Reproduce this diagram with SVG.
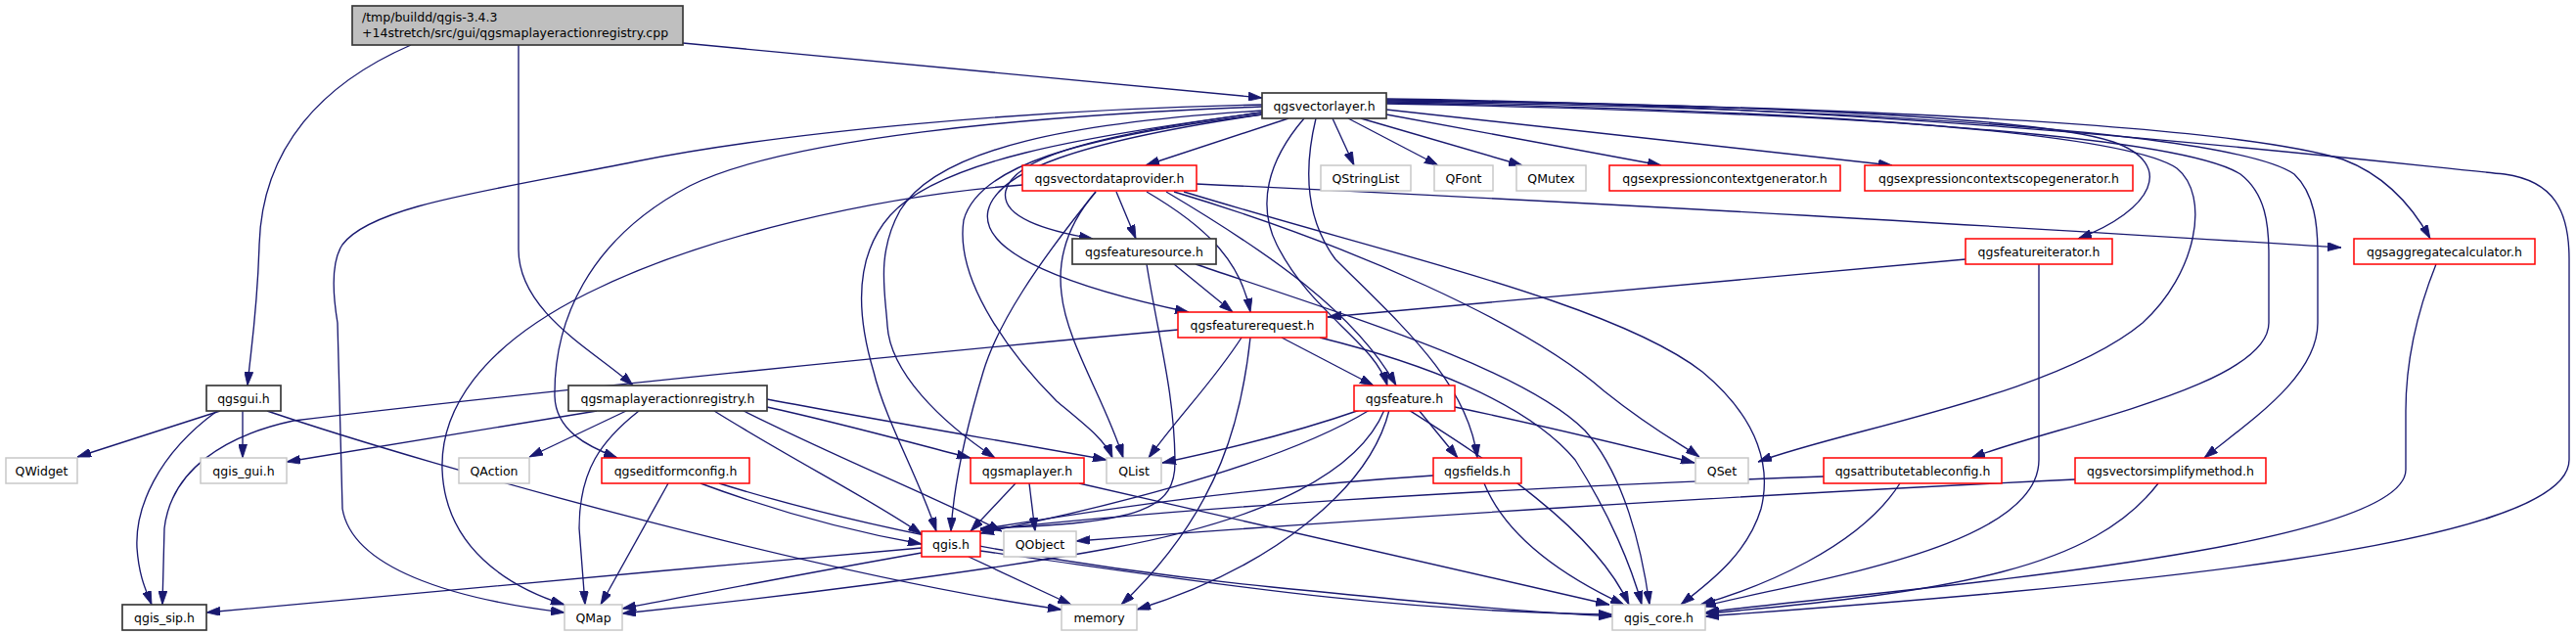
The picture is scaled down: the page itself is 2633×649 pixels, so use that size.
<svg xmlns="http://www.w3.org/2000/svg" width="2633" height="649" viewBox="0 0 2633 649">
<style>
.n rect{fill:#fff;stroke-width:1.5}
.k rect{stroke:#3a3a3a;stroke-width:1.7}
.r rect{stroke:#ff0000}
.g rect{stroke:#c8c8c8}
.root rect{fill:#bfbfbf;stroke:#3a3a3a;stroke-width:1.7}
text{font-family:"DejaVu Sans",sans-serif;font-size:12.5px;fill:#000}
.n text{text-anchor:middle}
#edges path{fill:none;stroke:#191970;stroke-width:1.35;marker-end:url(#a)}
</style>
<defs>
<marker id="a" markerUnits="userSpaceOnUse" viewBox="0 0 14 9" refX="14" refY="4.5" markerWidth="14" markerHeight="9" orient="auto">
<path d="M0,0 L14,4.5 L0,9 z" fill="#191970" stroke="#191970" stroke-width="0.8"/>
</marker>
</defs>
<rect width="2633" height="649" fill="#fff"/>
<g id="edges">
<path d="M420,46 C330,85 268,150 265,250 C263,320 256,360 253,394"/>
<path d="M530,46 L530,255 C530,320 610,360 647,394"/>
<path d="M698,44 L1290,100"/>
<path d="M1317,121 L1171,169"/>
<path d="M1362,121 L1384,169"/>
<path d="M1378,121 L1470,169"/>
<path d="M1391,121 L1556,169"/>
<path d="M1417,117 L1698,169"/>
<path d="M1417,112 L1934,169"/>
<path d="M1290,115 C1100,140 1035,165 1028,195 C1022,222 1070,236 1117,244"/>
<path d="M1290,117 C1100,145 1020,175 1010,215 C1000,260 1100,295 1215,319"/>
<path d="M1333,121 C1295,165 1285,210 1305,250 C1340,320 1405,350 1418,394"/>
<path d="M1345,121 C1332,175 1335,225 1365,265 C1430,330 1500,390 1510,468"/>
<path d="M1417,103 C1750,106 2080,118 2160,145 C2225,168 2200,215 2124,244"/>
<path d="M1417,102 C1850,108 2270,125 2395,163 C2440,180 2468,215 2484,244"/>
<path d="M1417,105 C1850,112 2170,135 2225,172 C2260,200 2245,280 2190,330 C2100,405 1880,440 1797,472"/>
<path d="M1417,106 C1900,115 2230,140 2290,178 C2316,198 2319,230 2319,260 L2319,330 C2319,395 2100,435 2015,468"/>
<path d="M1417,104 C1950,110 2290,140 2345,178 C2366,198 2369,230 2369,260 L2369,330 C2369,385 2300,430 2253,468"/>
<path d="M1417,101 C1950,108 2380,160 2560,178 C2610,185 2626,215 2626,265 L2626,470 C2626,560 2150,600 1743,630"/>
<path d="M1290,107 C1050,112 800,135 650,165 C500,195 380,210 350,250 C338,268 340,300 345,330 L350,520 C360,580 460,612 577,626"/>
<path d="M1290,109 C1050,118 800,142 705,190 C600,245 566,330 567,405 C568,440 600,456 631,468"/>
<path d="M1290,115 C1100,140 960,165 910,220 C870,265 878,330 893,380 C905,430 940,490 957,543"/>
<path d="M1290,113 C1100,125 960,150 920,215 C895,260 905,300 907,333 C910,380 960,430 1017,468"/>
<path d="M1290,117 C1100,140 1000,170 985,225 C975,290 1040,370 1080,410 C1110,435 1130,450 1137,468"/>
<path d="M1141,196 L1161,244"/>
<path d="M1172,196 C1230,230 1268,265 1278,319"/>
<path d="M1192,196 C1300,260 1385,320 1427,394"/>
<path d="M1223,188 C1700,210 2100,235 2393,253"/>
<path d="M1045,189 C900,200 720,240 600,300 C490,355 450,420 452,480 C455,560 520,600 577,618"/>
<path d="M1120,196 C1060,270 1020,330 1005,380 C990,430 975,490 972,543"/>
<path d="M1120,196 C1095,225 1080,260 1085,300 C1090,350 1130,410 1148,468"/>
<path d="M1200,196 C1380,250 1560,330 1640,400 C1690,440 1720,455 1737,467"/>
<path d="M1210,196 C1420,260 1650,310 1740,380 C1800,430 1810,480 1800,520 C1785,570 1740,600 1718,618"/>
<path d="M1200,270 L1260,319"/>
<path d="M1172,270 C1185,350 1200,400 1201,470 C1202,520 1170,535 1002,540"/>
<path d="M1222,270 C1400,330 1560,380 1620,440 C1660,485 1678,560 1686,618"/>
<path d="M2009,265 L1357,324"/>
<path d="M2084,270 L2084,470 C2084,560 1850,592 1740,620"/>
<path d="M2490,270 C2470,320 2459,370 2459,420 L2459,480 C2459,565 1900,605 1743,626"/>
<path d="M1310,345 L1404,394"/>
<path d="M1204,337 C950,360 550,400 300,430 C230,445 175,480 168,540 L166,618"/>
<path d="M1269,345 C1240,390 1205,425 1174,468"/>
<path d="M1278,345 C1270,420 1250,520 1146,618"/>
<path d="M1349,345 C1450,370 1560,410 1610,470 C1645,525 1668,580 1678,618"/>
<path d="M1390,419 C1330,440 1250,460 1188,473"/>
<path d="M1450,419 L1490,468"/>
<path d="M1487,416 C1600,440 1680,460 1732,473"/>
<path d="M1400,419 C1300,480 1100,525 1002,545"/>
<path d="M1415,419 C1390,480 1300,530 1137,560 C1000,585 800,610 636,627"/>
<path d="M1420,419 C1400,500 1300,580 1162,623"/>
<path d="M1440,419 C1520,470 1630,540 1665,618"/>
<path d="M225,420 L79,467"/>
<path d="M248,420 L248,468"/>
<path d="M222,420 C160,465 138,520 140,560 C142,590 150,605 155,618"/>
<path d="M273,420 C450,480 850,590 1085,623"/>
<path d="M610,420 L293,472"/>
<path d="M640,420 L541,467"/>
<path d="M653,420 C615,450 592,480 592,540 L598,618"/>
<path d="M784,408 C900,430 1050,455 1131,470"/>
<path d="M784,416 C870,435 940,455 992,468"/>
<path d="M730,420 C810,470 890,510 942,546"/>
<path d="M760,420 C860,470 960,510 1024,543"/>
<path d="M683,494 L614,618"/>
<path d="M716,494 C800,525 880,545 942,556"/>
<path d="M735,494 C900,545 1100,580 1300,600 C1450,615 1550,625 1648,630"/>
<path d="M1038,494 L992,543"/>
<path d="M1052,494 L1058,543"/>
<path d="M1103,494 L1645,618"/>
<path d="M1465,486 C1250,500 1100,525 1002,541"/>
<path d="M1517,494 C1540,550 1600,590 1660,618"/>
<path d="M1864,487 C1500,500 1200,520 1002,542"/>
<path d="M1942,494 C1900,560 1800,600 1738,618"/>
<path d="M2121,490 C1800,505 1400,530 1100,553"/>
<path d="M2206,494 C2140,580 2000,605 1743,627"/>
<path d="M942,560 C700,580 400,610 211,626"/>
<path d="M942,565 C800,590 700,610 636,622"/>
<path d="M990,569 L1095,618"/>
<path d="M1002,563 C1200,590 1400,625 1648,628"/>
</g>
<g id="root" class="root"><rect x="360" y="6" width="338" height="40"/><text x="370" y="22">/tmp/buildd/qgis-3.4.3</text><text x="370" y="38">+14stretch/src/gui/qgsmaplayeractionregistry.cpp</text></g>
<g id="qgsvectorlayer" class="n k"><rect x="1290" y="95" width="127" height="26"/><text x="1353.5" y="112.5">qgsvectorlayer.h</text></g>
<g id="qgsvectordataprovider" class="n r"><rect x="1045" y="169" width="178" height="26"/><text x="1134" y="186.5">qgsvectordataprovider.h</text></g>
<g id="QStringList" class="n g"><rect x="1350" y="169" width="92" height="26"/><text x="1396" y="186.5">QStringList</text></g>
<g id="QFont" class="n g"><rect x="1466" y="169" width="60" height="26"/><text x="1496" y="186.5">QFont</text></g>
<g id="QMutex" class="n g"><rect x="1550" y="169" width="71" height="26"/><text x="1585.5" y="186.5">QMutex</text></g>
<g id="qgsexpressioncontextgenerator" class="n r"><rect x="1645" y="169" width="236" height="26"/><text x="1763" y="186.5">qgsexpressioncontextgenerator.h</text></g>
<g id="qgsexpressioncontextscopegenerator" class="n r"><rect x="1906" y="169" width="274" height="26"/><text x="2043" y="186.5">qgsexpressioncontextscopegenerator.h</text></g>
<g id="qgsfeaturesource" class="n k"><rect x="1096" y="244" width="147" height="26"/><text x="1169.5" y="261.5">qgsfeaturesource.h</text></g>
<g id="qgsfeatureiterator" class="n r"><rect x="2009" y="244" width="150" height="26"/><text x="2084" y="261.5">qgsfeatureiterator.h</text></g>
<g id="qgsaggregatecalculator" class="n r"><rect x="2406" y="244" width="185" height="26"/><text x="2498.5" y="261.5">qgsaggregatecalculator.h</text></g>
<g id="qgsfeaturerequest" class="n r"><rect x="1204" y="319" width="152" height="26"/><text x="1280" y="336.5">qgsfeaturerequest.h</text></g>
<g id="qgsgui" class="n k"><rect x="211" y="394" width="76" height="26"/><text x="249" y="411.5">qgsgui.h</text></g>
<g id="qgsmaplayeractionregistry" class="n k"><rect x="581" y="394" width="203" height="26"/><text x="682.5" y="411.5">qgsmaplayeractionregistry.h</text></g>
<g id="qgsfeature" class="n r"><rect x="1384" y="394" width="103" height="26"/><text x="1435.5" y="411.5">qgsfeature.h</text></g>
<g id="QWidget" class="n g"><rect x="6" y="468" width="73" height="26"/><text x="42.5" y="485.5">QWidget</text></g>
<g id="qgis_gui" class="n g"><rect x="205" y="468" width="88" height="26"/><text x="249" y="485.5">qgis_gui.h</text></g>
<g id="QAction" class="n g"><rect x="469" y="468" width="72" height="26"/><text x="505" y="485.5">QAction</text></g>
<g id="qgseditformconfig" class="n r"><rect x="615" y="468" width="151" height="26"/><text x="690.5" y="485.5">qgseditformconfig.h</text></g>
<g id="qgsmaplayer" class="n r"><rect x="992" y="468" width="116" height="26"/><text x="1050" y="485.5">qgsmaplayer.h</text></g>
<g id="QList" class="n g"><rect x="1131" y="468" width="56" height="26"/><text x="1159" y="485.5">QList</text></g>
<g id="qgsfields" class="n r"><rect x="1465" y="468" width="90" height="26"/><text x="1510" y="485.5">qgsfields.h</text></g>
<g id="QSet" class="n g"><rect x="1733" y="468" width="54" height="26"/><text x="1760" y="485.5">QSet</text></g>
<g id="qgsattributetableconfig" class="n r"><rect x="1864" y="468" width="182" height="26"/><text x="1955" y="485.5">qgsattributetableconfig.h</text></g>
<g id="qgsvectorsimplifymethod" class="n r"><rect x="2121" y="468" width="195" height="26"/><text x="2218.5" y="485.5">qgsvectorsimplifymethod.h</text></g>
<g id="qgis" class="n r"><rect x="942" y="543" width="60" height="26"/><text x="972" y="560.5">qgis.h</text></g>
<g id="QObject" class="n g"><rect x="1026" y="543" width="74" height="26"/><text x="1063" y="560.5">QObject</text></g>
<g id="qgis_sip" class="n k"><rect x="125" y="618" width="86" height="26"/><text x="168" y="635.5">qgis_sip.h</text></g>
<g id="QMap" class="n g"><rect x="577" y="618" width="59" height="26"/><text x="606.5" y="635.5">QMap</text></g>
<g id="memory" class="n g"><rect x="1085" y="618" width="77" height="26"/><text x="1123.5" y="635.5">memory</text></g>
<g id="qgis_core" class="n g"><rect x="1648" y="618" width="95" height="26"/><text x="1695.5" y="635.5">qgis_core.h</text></g>
</svg>
